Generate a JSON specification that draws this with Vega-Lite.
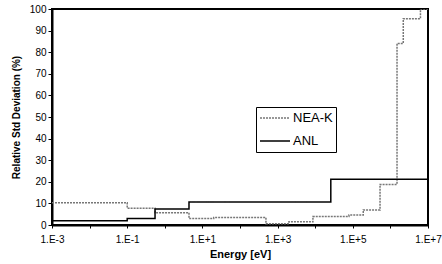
{
  "$schema": "https://vega.github.io/schema/vega-lite/v6.json",
  "width": 376,
  "height": 216,
  "autosize": {"type": "none"},
  "padding": {"left": 52, "top": 9, "right": 14, "bottom": 39},
  "background": "white",
  "config": {
    "font": "Liberation Sans",
    "view": {"stroke": "black", "strokeWidth": 2}
  },
  "data": {
    "values": [
      {"series": "NEA-K", "e": 0.001, "v": 10.3},
      {"series": "NEA-K", "e": 0.1, "v": 7.8},
      {"series": "NEA-K", "e": 0.55, "v": 5.7},
      {"series": "NEA-K", "e": 4.4, "v": 3.0},
      {"series": "NEA-K", "e": 20, "v": 3.5},
      {"series": "NEA-K", "e": 490, "v": 0.6},
      {"series": "NEA-K", "e": 2000, "v": 1.5},
      {"series": "NEA-K", "e": 8700, "v": 3.9},
      {"series": "NEA-K", "e": 79000, "v": 4.6},
      {"series": "NEA-K", "e": 190000, "v": 7.0},
      {"series": "NEA-K", "e": 530000, "v": 18.8},
      {"series": "NEA-K", "e": 1500000, "v": 84},
      {"series": "NEA-K", "e": 2200000, "v": 95.5},
      {"series": "NEA-K", "e": 6300000, "v": 100},
      {"series": "NEA-K", "e": 10000000, "v": 100},
      {"series": "ANL", "e": 0.001, "v": 2.0},
      {"series": "ANL", "e": 0.1, "v": 3.0},
      {"series": "ANL", "e": 0.55, "v": 7.4},
      {"series": "ANL", "e": 4.4, "v": 10.7},
      {"series": "ANL", "e": 26000, "v": 21.2},
      {"series": "ANL", "e": 10000000, "v": 21.6}
    ]
  },
  "mark": {"type": "line", "interpolate": "step-after", "clip": true},
  "encoding": {
    "x": {
      "field": "e",
      "type": "quantitative",
      "scale": {"type": "log", "domain": [0.001, 10000000], "nice": false},
      "axis": {
        "title": "Energy [eV]",
        "titleFontSize": 11,
        "titleFontWeight": "bold",
        "titlePadding": 4,
        "values": [0.001, 0.01, 0.1, 1, 10, 100, 1000, 10000, 100000, 1000000, 10000000],
        "labelExpr": "round(log(datum.value)/LN10) % 2 == 0 ? '' : '1.E' + (datum.value >= 1 ? '+' : '-') + abs(round(log(datum.value)/LN10))",
        "labelFontSize": 10,
        "labelColor": "black",
        "labelPadding": 6,
        "labelOverlap": false,
        "labelFlush": false,
        "tickSize": 3,
        "tickColor": "black",
        "domainColor": "black",
        "domainWidth": 2,
        "grid": false
      }
    },
    "y": {
      "field": "v",
      "type": "quantitative",
      "scale": {"domain": [0, 100], "nice": false},
      "axis": {
        "title": "Relative Std Deviation (%)",
        "titleFontSize": 10,
        "titleFontWeight": "bold",
        "titlePadding": 8,
        "values": [0, 10, 20, 30, 40, 50, 60, 70, 80, 90, 100],
        "labelFontSize": 10,
        "labelColor": "black",
        "tickSize": 4,
        "tickColor": "black",
        "domainColor": "black",
        "domainWidth": 2,
        "grid": false
      }
    },
    "color": {
      "field": "series",
      "type": "nominal",
      "scale": {"domain": ["NEA-K", "ANL"], "range": ["#777777", "black"]},
      "legend": {
        "title": null,
        "orient": "none",
        "legendX": 204,
        "legendY": 98,
        "symbolType": "stroke",
        "symbolSize": 900,
        "symbolStrokeWidth": 1.5,
        "clipHeight": 16,
        "labelFontSize": 13,
        "labelColor": "black",
        "rowPadding": 7,
        "padding": 3,
        "strokeColor": "black",
        "fillColor": "white",
        "labelOffset": 2
      }
    },
    "strokeDash": {
      "field": "series",
      "type": "nominal",
      "scale": {"domain": ["NEA-K", "ANL"], "range": [[2, 1], [1, 0]]},
      "legend": null
    },
    "strokeWidth": {"value": 1.5}
  }
}
